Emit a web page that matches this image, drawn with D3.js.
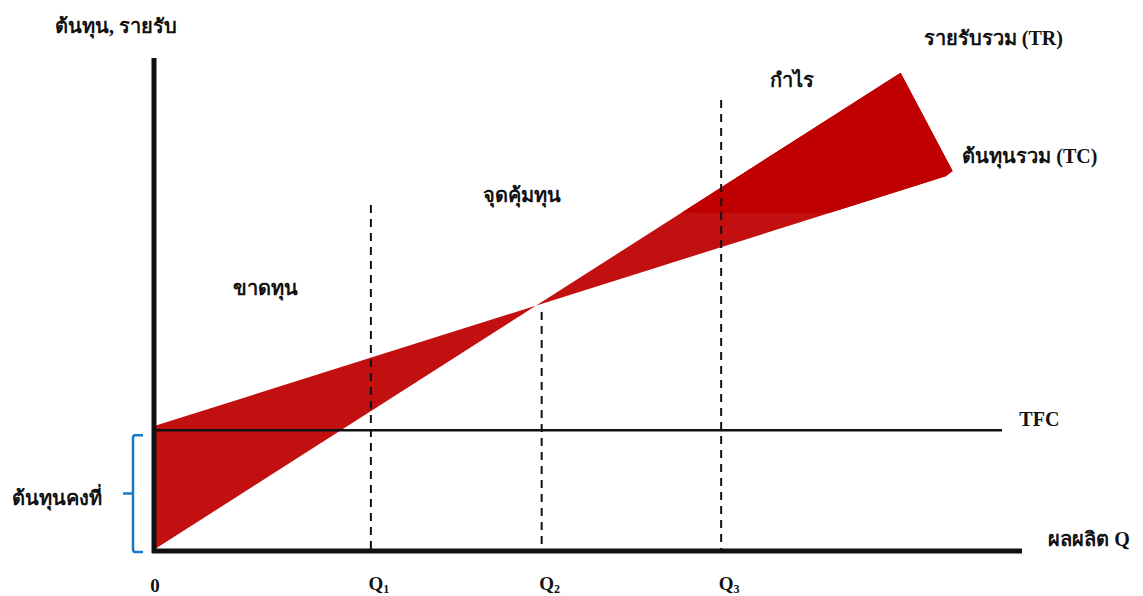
<!DOCTYPE html>
<html>
<head>
<meta charset="utf-8">
<script src="https://cdn.jsdelivr.net/npm/d3@7"></script>
<style>
  html, body { margin: 0; padding: 0; background: #fff; }
  svg { display: block; }
  text { font-family: "Liberation Serif", "DejaVu Serif", serif; font-weight: bold; fill: #111; }
</style>
</head>
<body>
<svg id="chart" width="1143" height="596"></svg>
<script>
// ---- data (chart units) ----
const qLabels = ["Q1", "Q2", "Q3"];
const qValues = [2.49, 4.46, 6.53];
const qDashTops = [7.02, 4.85, 9.15];
const trPoints = [[0, 0.04], [8.6, 9.7]];           // total revenue line
const tcPoints = [[0, 2.54], [9.12, 7.6]];          // total cost line
const capPoint = [9.2, 7.71];                        // end cap of the shaded band
const tfcValue = 2.45;
const tfcEnd = 9.77;
const xDomain = [0, 10];
const yDomain = [0, 10];
const areaLabels = [
  { text: "ขาดทุน", x: 1.28, y: 5.2 },
  { text: "จุดคุ้มทุน", x: 4.23, y: 7.08 },
  { text: "กำไร", x: 7.35, y: 9.41 }
];
const lineLabels = [
  { text: "รายรับรวม (TR)", x: 9.67, y: 10.26 },
  { text: "ต้นทุนรวม (TC)", x: 10.09, y: 7.87 },
  { text: "TFC", x: 10.2, y: 2.54 }
];

// ---- scales ----
const svg = d3.select("#chart");
const x = d3.scaleLinear().domain(xDomain).range([155, 1022]);
const y = d3.scaleLinear().domain(yDomain).range([551, 58]);

// ---- shaded band between TR and TC ----
const bandPts = [trPoints[0], trPoints[1], capPoint, tcPoints[1], tcPoints[0]];
const line = d3.line().x(d => x(d[0])).y(d => y(d[1]));
const defs = svg.append("defs");
defs.append("clipPath").attr("id", "upper")
  .append("rect").attr("x", 0).attr("y", 0).attr("width", 1143).attr("height", y(6.86));
svg.append("path").attr("d", line(bandPts) + "Z").attr("fill", "#c20f0f");
svg.append("path").attr("d", line(bandPts) + "Z").attr("fill", "#c00000").attr("clip-path", "url(#upper)");

// ---- TFC line ----
svg.append("line")
  .attr("x1", x(0)).attr("x2", x(tfcEnd))
  .attr("y1", y(tfcValue)).attr("y2", y(tfcValue))
  .attr("stroke", "#111").attr("stroke-width", 2.5);

// ---- dashed Q lines ----
svg.selectAll(".qline").data(qValues).join("line")
  .attr("class", "qline")
  .attr("x1", d => x(d)).attr("x2", d => x(d))
  .attr("y1", (d, i) => y(qDashTops[i])).attr("y2", y(0))
  .attr("stroke", "#111").attr("stroke-width", 2)
  .attr("stroke-dasharray", "8,6");

// ---- axes ----
const xAxis = svg.append("g").attr("transform", `translate(0,${y(0)})`)
  .call(d3.axisBottom(x).tickValues([]).tickSizeOuter(0));
xAxis.select(".domain").attr("stroke", "#111").attr("stroke-width", 5)
  .attr("d", `M${x(0) - 3},0H${x(xDomain[1])}`);
const yAxis = svg.append("g").attr("transform", `translate(${x(0) - 1},0)`)
  .call(d3.axisLeft(y).tickValues([]).tickSizeOuter(0));
yAxis.select(".domain").attr("stroke", "#111").attr("stroke-width", 5)
  .attr("d", `M0,${y(0) + 2}V${y(yDomain[1])}`);

// ---- tick labels ----
svg.append("text").attr("x", x(0)).attr("y", 592).attr("text-anchor", "middle")
  .attr("font-size", 19).text("0");
const ql = svg.selectAll(".qlab").data(qValues).join("text")
  .attr("class", "qlab")
  .attr("x", d => x(d) + 8).attr("y", 590)
  .attr("text-anchor", "middle").attr("font-size", 19);
ql.append("tspan").text((d, i) => qLabels[i][0]);
ql.append("tspan").attr("font-size", 12).attr("dy", 3).text((d, i) => qLabels[i].slice(1));

// ---- axis titles ----
svg.append("text").attr("x", 116).attr("y", 33).attr("text-anchor", "middle")
  .attr("font-size", 20).text("ต้นทุน, รายรับ");
svg.append("text").attr("x", 1089).attr("y", 546).attr("text-anchor", "middle")
  .attr("font-size", 20).text("ผลผลิต Q");

// ---- annotations ----
svg.selectAll(".alab").data(areaLabels).join("text")
  .attr("class", "alab")
  .attr("x", d => x(d.x)).attr("y", d => y(d.y))
  .attr("text-anchor", "middle").attr("font-size", 20).text(d => d.text);
svg.selectAll(".llab").data(lineLabels).join("text")
  .attr("class", "llab")
  .attr("x", d => x(d.x)).attr("y", d => y(d.y))
  .attr("text-anchor", "middle").attr("font-size", 20).text(d => d.text);

// ---- fixed-cost brace ----
const bTop = y(tfcValue) + 5, bBot = y(0) + 1, bx = 133;
svg.append("path")
  .attr("d", `M143,${bTop}H${bx + 2}Q${bx},${bTop} ${bx},${bTop + 3}V${bBot - 3}Q${bx},${bBot} ${bx + 2},${bBot}H143`
    + `M${bx},${(bTop + bBot) / 2}H123`)
  .attr("fill", "none").attr("stroke", "#1a78c8").attr("stroke-width", 2.5);
svg.append("text").attr("x", 57).attr("y", 505).attr("text-anchor", "middle")
  .attr("font-size", 20).text("ต้นทุนคงที่");
</script>
</body>
</html>
